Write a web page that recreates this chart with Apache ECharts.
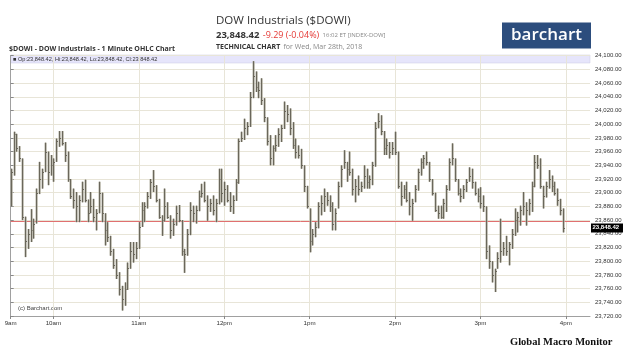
<!DOCTYPE html>
<html><head><meta charset="utf-8">
<script src="https://cdn.jsdelivr.net/npm/echarts@6/dist/echarts.min.js"></script>
<style>html,body{margin:0;padding:0;background:#fff}#c{width:640px;height:358px}</style>
</head><body><div id="c"></div>
<script>
// ---- data (2-minute bars, session 9:30 - 16:00) ----
const barMinutes = 2; // minutes between bars, counted from the 9:30 open
const highs = [
23935,23989,23986,23968,23950,23865,23847,23876,23862,23906,23945,23935,23973,23960,23955,23950,23979,23990,23990,23974,
23960,23920,23906,23901,23896,23916,23919,23890,23901,23891,23876,23916,23900,23870,23857,23837,23818,23803,23784,23764,
23769,23798,23828,23828,23828,23857,23886,23886,23901,23920,23933,23911,23891,23867,23906,23886,23867,23862,23881,23882,
23860,23818,23847,23886,23881,23881,23903,23913,23916,23896,23891,23896,23891,23935,23935,23916,23911,23901,23896,23920,
23979,23989,24008,24003,24047,24092,24077,24062,24067,24038,24010,23984,23969,23984,23994,23999,24033,24028,24023,24003,
23979,23969,23964,23940,23910,23877,23847,23857,23886,23896,23906,23901,23896,23886,23877,23916,23940,23962,23945,23960,
23935,23920,23925,23916,23940,23935,23925,23945,24003,24016,24013,23990,23979,23974,23974,23989,23960,23916,23911,23916,
23901,23891,23911,23935,23950,23955,23960,23945,23920,23900,23881,23881,23891,23911,23950,23972,23950,23920,23906,23911,
23920,23937,23935,23916,23906,23908,23896,23880,23823,23800,23789,23813,23862,23828,23837,23828,23847,23877,23872,23881,
23901,23886,23891,23916,23955,23955,23950,23910,23916,23933,23925,23916,23906,23891,23877];
const lows = [
23880,23925,23960,23945,23860,23806,23818,23828,23833,23855,23898,23906,23930,23911,23925,23916,23945,23967,23969,23945,
23916,23891,23877,23857,23857,23886,23886,23857,23870,23857,23845,23870,23857,23823,23828,23808,23789,23774,23750,23728,
23735,23758,23789,23798,23803,23818,23850,23857,23877,23891,23901,23886,23862,23837,23858,23862,23833,23837,23852,23857,
23808,23783,23808,23838,23857,23855,23873,23893,23886,23859,23872,23867,23857,23883,23886,23881,23886,23872,23869,23888,
23913,23974,23977,23984,23996,24038,24047,24038,24028,24003,23969,23940,23940,23960,23967,23974,23993,24003,23984,23964,
23950,23950,23935,23901,23877,23813,23823,23835,23848,23867,23872,23881,23872,23845,23845,23877,23908,23935,23916,23925,
23896,23886,23896,23901,23906,23906,23906,23911,23938,23994,23984,23955,23955,23950,23955,23955,23906,23881,23891,23886,
23867,23859,23886,23903,23925,23935,23940,23916,23896,23872,23862,23862,23862,23872,23903,23940,23916,23896,23886,23891,
23901,23916,23906,23896,23886,23877,23872,23803,23789,23769,23755,23789,23798,23808,23808,23794,23818,23837,23842,23852,
23867,23852,23867,23872,23908,23935,23906,23877,23893,23906,23901,23896,23881,23867,23842];
const closes = [
23930,23985,23965,23950,23865,23830,23840,23845,23855,23900,23920,23930,23960,23930,23940,23945,23975,23980,23972,23955,
23920,23895,23890,23880,23890,23905,23890,23870,23880,23865,23870,23900,23870,23845,23835,23815,23795,23780,23760,23745,
23760,23790,23815,23810,23820,23850,23875,23880,23895,23915,23910,23890,23865,23860,23880,23865,23845,23855,23870,23860,
23815,23810,23840,23875,23870,23875,23895,23900,23890,23880,23885,23875,23885,23920,23900,23905,23890,23880,23890,23915,
23975,23980,23995,23998,24040,24070,24055,24050,24035,24010,23975,23950,23965,23970,23985,23995,24020,24015,23995,23970,
23960,23955,23940,23910,23880,23830,23840,23850,23880,23885,23895,23890,23880,23855,23870,23910,23935,23945,23935,23930,
23905,23910,23905,23910,23925,23915,23920,23940,23995,24005,23990,23965,23970,23960,23965,23960,23910,23895,23905,23890,
23880,23885,23905,23930,23945,23950,23945,23920,23900,23875,23870,23865,23885,23905,23945,23950,23920,23900,23895,23905,
23915,23925,23915,23900,23895,23885,23880,23815,23800,23780,23785,23805,23815,23820,23815,23825,23840,23860,23865,23875,
23880,23875,23885,23910,23945,23940,23910,23895,23910,23920,23910,23900,23890,23875,23848.42];
const yMin = 23720, yMax = 24100, yStep = 20;
const hourLabels = ['9am','10am','11am','12pm','1pm','2pm','3pm','4pm'];
const hourLabelMinutes = [0,30,90,150,210,270,330,390]; // minutes after 9:30
const hourGridMinutes = [30,90,150,210,270,330,390];
const axisEndMinute = 407;
const lastPrice = 23848.42;
const prevClose = 23857.71;
const lastChange = '-9.29 (-0.04%)';

function fmt(v){
  const s = Number(v).toFixed(2);
  const [a,b] = s.split('.');
  return a.replace(/\B(?=(\d{3})+(?!\d))/g, ',') + '.' + b;
}

const barData = highs.map((h,i)=>[i*barMinutes, h, lows[i], closes[i]]);
const BAR_DARK = '#6a675b';
const BAR_FILL = '#b3b0a3';

function renderItem(params, api){
  const x = api.value(0);
  const hi = api.coord([x, api.value(1)]);
  const lo = api.coord([x, api.value(2)]);
  const cl = api.coord([x, api.value(3)]);
  const w = api.size([barMinutes, 0])[0];
  const px = Math.round(hi[0]);
  const cy = Math.round(cl[1]) + 0.5;
  return {type:'group', children:[
    {type:'rect', shape:{x:px-0.5, y:hi[1], width:Math.max(2, w-0.6), height:Math.max(1, lo[1]-hi[1])}, style:{fill:BAR_FILL}},
    {type:'line', shape:{x1:px+0.5,y1:hi[1],x2:px+0.5,y2:lo[1]}, style:{stroke:BAR_DARK,lineWidth:1}},
    {type:'line', shape:{x1:px+0.5,y1:cy,x2:px+2,y2:cy}, style:{stroke:BAR_DARK,lineWidth:1}}
  ]};
}

const chart = echarts.init(document.getElementById('c'), null, {renderer:'canvas'});
const FONT = '"Open Sans", "Liberation Sans", sans-serif';
const GL = {left:10.7, right:50, top:55.7, bottom:42};

const option = {
  animation:false,
  backgroundColor:'#fff',
  grid: GL,
  xAxis: {
    type:'value', min:0, max:axisEndMinute, interval:30,
    axisLine:{show:true, lineStyle:{color:'#a0a0a0'}},
    axisTick:{show:true, length:3, customValues:hourLabelMinutes, lineStyle:{color:'#888'}},
    axisLabel:{customValues:hourLabelMinutes, fontSize:6.2, color:'#333', margin:4, fontFamily:'Liberation Sans',
      formatter:(v)=>{const k=hourLabelMinutes.indexOf(v);return k>=0?hourLabels[k]:'';}},
    splitLine:{show:false}
  },
  yAxis: [{
    type:'value', position:'right', min:yMin, max:yMax, interval:yStep,
    axisLine:{show:true, lineStyle:{color:'#a0a0a0'}},
    axisTick:{show:true, length:3, lineStyle:{color:'#888'}},
    axisLabel:{fontSize:6, color:'#333', margin:5, fontFamily:'Liberation Sans', formatter:fmt},
    splitLine:{show:true, lineStyle:{color:'#e8e5d8', width:1}}
  },{
    type:'value', position:'left', min:yMin, max:yMax, interval:yStep,
    axisLine:{show:true, lineStyle:{color:'#a0a0a0'}},
    axisTick:{show:false}, axisLabel:{show:false}, splitLine:{show:false}
  }],
  series: [{
    type:'line', data:[], z:1, silent:true,
    markLine:{silent:true, symbol:'none', animation:false, label:{show:false},
      data:[
        ...hourGridMinutes.map(m=>({xAxis:m, lineStyle:{color:'#e8e5d8', width:1, type:'solid'}})),
        {yAxis:prevClose, lineStyle:{color:'#e07070', width:1, type:'solid'}}
      ]}
  },{
    type:'custom', renderItem, data:barData, z:10, clip:false,
    encode:{x:0, y:[1,2,3]}
  }],
  graphic: []
};
chart.setOption(option);

const lastY = chart.convertToPixel({yAxisIndex:0}, lastPrice);
const gridRight = 640 - GL.right;
chart.setOption({graphic:[
  {type:'rect', z:-1, shape:{x:GL.left, y:55, width:gridRight-GL.left, height:8}, style:{fill:'#e6e5fb', stroke:'#c9c8e3', lineWidth:0.5}},
  {type:'text', z:5, left:13, top:56.2, style:{text:'\u25A0 Op:'+fmt(lastPrice)+', Hi:'+fmt(lastPrice)+', Lo:'+fmt(lastPrice)+', Cl:'+fmt(lastPrice), fontSize:5.6, fill:'#333', fontFamily:'Liberation Sans'}},
  {type:'text', z:5, left:18, top:305.5, style:{text:'(c) Barchart.com', fontSize:6, fill:'#444', fontFamily:'Liberation Sans'}},
  {type:'rect', z:20, shape:{x:gridRight+1, y:Math.round(lastY)-4.5, width:32, height:9}, style:{fill:'#000'}},
  {type:'text', z:21, left:gridRight+2.5, top:Math.round(lastY)-3.4, style:{text:fmt(lastPrice), fontSize:6, fontWeight:'bold', fill:'#fff', fontFamily:'Liberation Sans'}},
  {type:'text', left:216, top:15, style:{text:'DOW Industrials ($DOWI)', fontSize:11.5, fill:'#333', fontFamily:FONT}},
  {type:'text', left:216, top:29.5, style:{rich:{
      a:{fontSize:9.5, fontWeight:'bold', fill:'#333', fontFamily:FONT},
      b:{fontSize:9, fill:'#e53935', fontFamily:FONT},
      c:{fontSize:6, fill:'#888', fontFamily:FONT}},
      text:'{a|'+fmt(lastPrice)+'} {b|'+lastChange+'} {c|16:02 ET [INDEX-DOW]}'}},
  {type:'text', left:216, top:40.5, style:{rich:{
      a:{fontSize:7, fontWeight:'bold', fill:'#333', fontFamily:FONT},
      c:{fontSize:7, fill:'#888', fontFamily:FONT}},
      text:'{a|TECHNICAL CHART} {c|for Wed, Mar 28th, 2018}'}},
  {type:'text', left:9, top:45.5, style:{text:'$DOWI - DOW Industrials - 1 Minute OHLC Chart', fontSize:7, fontWeight:'bold', fill:'#333', fontFamily:FONT}},
  {type:'rect', shape:{x:502, y:22.5, width:89, height:26}, style:{fill:'#2c4d7d'}},
  {type:'text', x:546.5, y:35.5, style:{text:'barchart', fontSize:17, fill:'#fff', fontFamily:FONT, fontWeight:600, align:'center', verticalAlign:'middle'}},
  {type:'text', left:510, top:337, style:{text:'Global Macro Monitor', fontSize:10.5, fontWeight:'bold', fill:'#111', fontFamily:'"Liberation Serif", serif'}}
]});
</script></body></html>
